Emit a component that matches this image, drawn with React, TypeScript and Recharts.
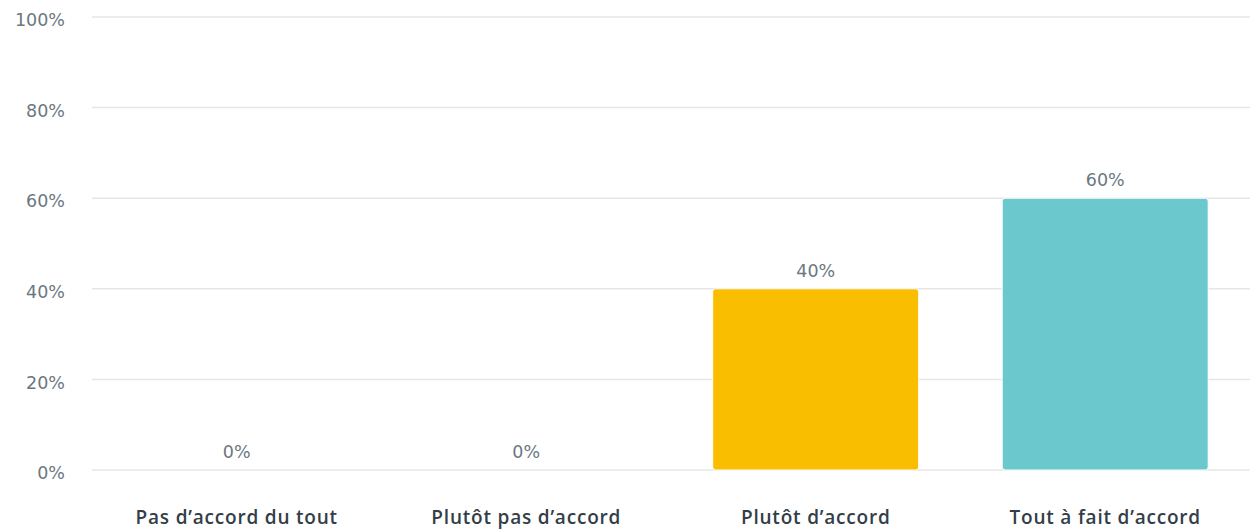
import { ComposedChart, Bar, Line, XAxis, YAxis, CartesianGrid, LabelList, Cell } from "recharts";

const categories = ["Pas d’accord du tout", "Plutôt pas d’accord", "Plutôt d’accord", "Tout à fait d’accord"];
const values = [0, 0, 40, 60];
const colors = ["#F9BE00", "#F9BE00", "#F9BE00", "#6BC8CD"];
const yTicks = [0, 20, 40, 60, 80, 100];

const data = categories.map((name, i) => ({ name, value: values[i] }));

const NUM_FONT = "'DejaVu Sans', sans-serif";
const CAT_FONT = "'Open Sans', sans-serif";
const GRAY = "#6B787F";
const DARK = "#333E48";

export default function App() {
  return (
    <div style={{ position: "absolute", left: 0, top: 0, width: 1250, height: 531, background: "#fff" }}>
      <ComposedChart
        width={1250}
        height={531}
        data={data}
        margin={{ top: 17, right: 0, left: 0, bottom: 0 }}
        barCategoryGap="14.4%"
      >
        <CartesianGrid vertical={false} stroke="#E6E6E6" strokeWidth={1.5} />
        <XAxis
          dataKey="name"
          axisLine={false}
          tickLine={false}
          tickSize={0}
          tickMargin={41}
          height={61}
          interval={0}
          tick={{ fontSize: 19, fill: DARK, fontFamily: CAT_FONT, fontWeight: 600, letterSpacing: 0.8 }}
        />
        <YAxis
          width={92}
          domain={[0, 100]}
          ticks={yTicks}
          axisLine={false}
          tickLine={false}
          tickSize={0}
          tickMargin={27}
          tickFormatter={(v) => `${v}%`}
          tick={{ fontSize: 17.5, fill: GRAY, fontFamily: NUM_FONT, fontWeight: 500, dy: 3 }}
        />
        <Bar dataKey="value" isAnimationActive={false} radius={[3, 3, 3, 3]} stroke="#fff" strokeWidth={1}>
          {data.map((d, i) => (
            <Cell key={d.name} fill={colors[i]} />
          ))}
        </Bar>
        <Line
          dataKey="value"
          stroke="none"
          dot={false}
          activeDot={false}
          isAnimationActive={false}
          legendType="none"
        >
          <LabelList
            dataKey="value"
            position="top"
            offset={12}
            formatter={(v: number) => `${v}%`}
            style={{ fontSize: 17.5, fill: GRAY, fontFamily: NUM_FONT, fontWeight: 500 }}
          />
        </Line>
      </ComposedChart>
    </div>
  );
}
